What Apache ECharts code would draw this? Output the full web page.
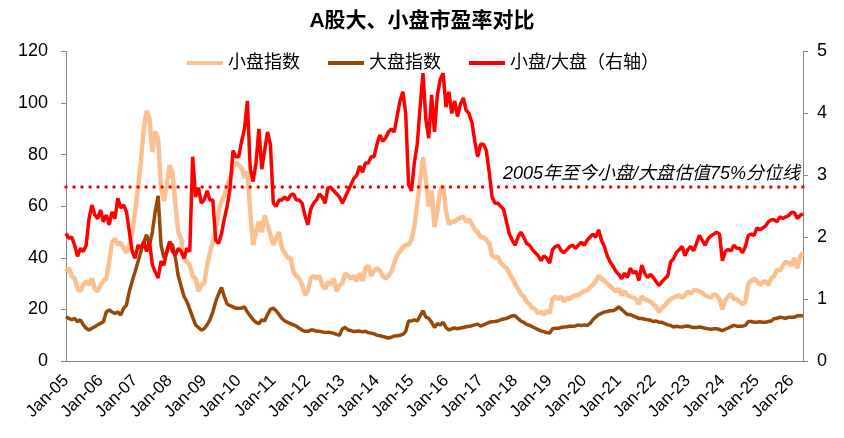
<!DOCTYPE html>
<html><head><meta charset="utf-8">
<script src="https://cdn.jsdelivr.net/npm/echarts@6/dist/echarts.min.js"></script>
<style>html,body{margin:0;padding:0;background:#fff}#c{width:844px;height:438px}</style>
</head><body><div id="c"></div>
<script>
// Monthly series, Jan 2005 .. May 2026
const startYear = 2005;
const smallCap = [
 34.6,36,33,32,28,27,29.5,31,29.5,32,28,27,
 29.5,31,32,38.5,46,47.5,45,46,43.7,42,45,50,
 58,67,77,90,97,94,81,89,86,67,62,68,
 76,73,60.5,50,47.5,40,38.5,37,33,32,27,29.5,
 30,37,42,46,51,58,62,64,68,71,75,77,
 76,75,71,73.5,58,45,50,54,50,56.5,52.7,49,
 45,47.5,50,43.7,42,40,40,34.6,33,32,29.5,25.6,
 27,32,33,32,33,29.5,28,30.7,29.5,32,27,29.5,
 30,34,33,32,33,31,34,31,36,37,33,35,
 36,35,33,32,33,34.6,38,41,42.5,44,45,45,
 47,52,61,70,79,70,60,66,52,58,66,68,
 58,53,54,54,55,55.5,56,54,55,53,51,50,
 48,48,47,45.5,41,40,40.5,38,37,36,34,32,
 30,28,26,25,23,22,20.5,20,18.5,19,18,19.5,
 18.5,24,25,24,25,23,24.5,24,25,25.5,25.5,26.5,
 27,27.5,28.5,29.5,31,33,32,31,30,29,28,27,
 28,25.5,27,25.5,25,24.5,24,22,25,24,23.5,23,
 22,21,19,20.5,21.5,23,24,24.5,25,25.5,24.5,25.5,
 27,26,27.5,27.5,27,26.5,25.5,25,24.5,26,25.5,24,
 20,23.5,25,26,24,24,23,22,23,30,31,32,
 31,29.5,30.5,31,29.5,32,33,35.5,35,37,38.5,38,
 37,40,36,40.5,42
];
const largeCap = [
 17.2,16.5,16,16.5,15.2,16,14,12.7,12,12.7,13.3,14,
 14.6,15.2,19,19.8,19,18.5,19,17.8,20.4,21.7,27,31,
 34.6,38.5,42.4,46,49,45,50,58,64,45,40,42,
 46,45,40,33,29,25,23,20,17,14,13,12,
 12.5,14,16,19,23,26,28.5,25,22,21.5,21,20.5,
 20.5,20.5,21,19,17.5,16,15,14.5,16,15.5,18,20,
 20.5,19.5,18,16.5,15.5,15,14.5,14,13.5,12.7,12,11.5,
 11.5,12,12,11.5,11.5,11.3,11,11.2,11,10.7,10.3,10,
 12.5,13,12,11.8,11.4,11.5,11.6,11.3,11.5,11,10.8,10.5,
 10,9.8,9.5,9.2,8.9,9.2,9.7,9.8,10,10.3,11.5,15.5,
 15.5,16,15.5,17.5,19.5,17,16.5,15,13,14.5,14,15,
 13,12,12.5,12.8,12.5,12.8,13,13.3,13.5,13.7,14,14.3,
 13.5,14,14.5,15,15.2,15.3,15.5,16,16.3,16.5,17,17.5,
 17.5,16.5,15.5,15,14.2,13.8,13.3,12.7,12.2,11.7,11.4,11,
 10.8,12.5,12.7,12.7,13,13.2,13.3,13.5,13.5,13.6,14,13.7,
 14,13.8,14.5,16,17,18,18.5,19,19.2,19.5,19.5,20,
 21,20,19,18,18,17.5,17,16.5,16.5,16.2,16,15.8,
 15.3,15.5,15,15,14.5,14,13.8,13.2,13.5,13.3,13.2,13.5,
 13.6,13.2,13,13,13.2,13,12.7,12.5,12.3,12.5,12.5,12.2,
 11.8,12.3,12.8,13.3,13.8,13.5,13.5,13.5,13.8,15.3,15.3,15,
 15,15.2,15,15,15.3,15.5,16.5,16.5,17,16.8,16.5,17,
 17,17,17.5,17.5,17.5
];
const ratio = [
 2.06,1.98,2.0,1.87,1.69,1.82,1.77,1.87,2.3,2.52,2.36,2.3,
 2.44,2.25,2.36,2.2,2.41,2.3,2.63,2.47,2.52,2.41,2.09,1.77,
 1.66,1.87,1.82,1.93,1.77,1.93,1.55,1.44,1.34,1.61,1.55,1.77,
 1.93,1.77,1.71,1.82,1.77,1.66,1.82,1.77,3.3,2.65,2.8,2.55,
 2.6,2.75,2.6,2.6,1.95,1.9,2.05,2.3,2.5,2.8,3.4,3.3,
 3.3,3.55,3.75,4.2,3.1,2.9,3.2,3.75,3.1,3.4,3.7,3.5,
 2.55,2.5,2.6,2.6,2.65,2.6,2.68,2.7,2.6,2.6,2.55,2.35,
 2.2,2.45,2.55,2.6,2.7,2.65,2.55,2.8,2.8,2.75,2.7,2.65,
 2.55,2.65,2.75,2.85,2.95,3.0,3.15,3.05,3.2,3.2,3.3,3.3,
 3.5,3.65,3.55,3.6,3.7,3.75,3.7,3.95,4.2,4.35,4.0,2.85,
 2.75,3.2,3.5,4.1,4.65,3.9,3.6,4.3,3.7,4.3,4.55,4.65,
 4.1,4.35,4.0,4.2,3.95,4.15,4.25,4.05,4.0,3.85,3.55,3.3,
 3.5,3.5,3.4,3.05,2.65,2.55,2.55,2.5,2.45,2.25,2.05,1.95,
 1.87,2.0,2.08,2.0,1.9,1.87,1.8,1.75,1.7,1.62,1.7,1.66,
 1.58,1.8,1.85,1.87,1.78,1.75,1.8,1.85,1.87,1.82,1.87,1.92,
 1.87,1.95,2.0,2.05,2.0,2.12,1.95,1.85,1.7,1.6,1.53,1.45,
 1.4,1.33,1.42,1.35,1.5,1.42,1.45,1.3,1.55,1.42,1.35,1.4,
 1.35,1.28,1.22,1.28,1.33,1.37,1.6,1.65,1.75,1.8,1.85,1.7,
 1.8,1.85,1.78,1.9,2.03,1.95,1.87,1.97,2.02,2.05,2.08,2.05,
 1.62,1.77,1.8,1.78,1.87,1.82,1.82,1.75,1.85,2.03,2.05,2.03,
 2.15,2.12,2.15,2.18,2.25,2.28,2.28,2.25,2.33,2.3,2.33,2.35,
 2.4,2.4,2.3,2.35,2.38
];
const pct75 = 2.82;
const seriesNames = ['小盘指数', '大盘指数', '小盘/大盘（右轴）'];
const pct75Label = '2005年至今小盘/大盘估值75%分位线';
const monthNames = ['Jan','Feb','Mar','Apr','May','Jun','Jul','Aug','Sep','Oct','Nov','Dec'];

const categories = smallCap.map((_, i) => {
  const y = startYear + Math.floor(i / 12);
  const m = i % 12;
  return y + '-' + String(m + 1).padStart(2, '0');
});

const FONT = "'Liberation Sans', Arial, 'Noto Sans CJK SC', sans-serif";
const chart = echarts.init(document.getElementById('c'), null, {renderer: 'canvas'});
chart.setOption({
  animation: false,
  backgroundColor: '#fff',
  textStyle: {fontFamily: FONT, color: '#000'},
  title: {
    text: 'A股大、小盘市盈率对比', left: 'center', top: 6,
    textStyle: {fontFamily: FONT, fontSize: 21, fontWeight: 'bold', color: '#000'}
  },
  legend: {
    top: 49, left: 182, icon: 'rect', itemWidth: 36, itemHeight: 4, itemGap: 28,
    data: seriesNames,
    textStyle: {fontFamily: FONT, fontSize: 18, color: '#000'}
  },
  grid: {left: 66, right: 41, top: 51.5, bottom: 77, containLabel: false},
  xAxis: {
    type: 'category', data: categories, boundaryGap: false,
    axisLine: {lineStyle: {color: '#868686', width: 1}},
    axisTick: {show: false},
    axisLabel: {
      rotate: 45, margin: 17, fontSize: 17, color: '#000', fontFamily: FONT,
      interval: (idx, val) => val.endsWith('-01'),
      formatter: (val) => {
        const p = val.split('-');
        return monthNames[parseInt(p[1], 10) - 1] + '-' + p[0].slice(2);
      }
    },
    splitLine: {show: false}
  },
  yAxis: [
    {type: 'value', min: 0, max: 120, interval: 20, position: 'left',
     axisLine: {show: true, lineStyle: {color: '#868686'}},
     axisTick: {show: true, length: 5, lineStyle: {color: '#868686'}},
     axisLabel: {fontSize: 18, color: '#000', margin: 18, fontFamily: FONT},
     splitLine: {show: false}},
    {type: 'value', min: 0, max: 5, interval: 1, position: 'right',
     axisLine: {show: true, lineStyle: {color: '#868686'}},
     axisTick: {show: true, length: 5, lineStyle: {color: '#868686'}},
     axisLabel: {fontSize: 18, color: '#000', margin: 14, fontFamily: FONT},
     splitLine: {show: false}}
  ],
  series: [
    {name: seriesNames[0], type: 'line', data: smallCap, yAxisIndex: 0,
     showSymbol: false, symbol: 'none', color: '#FAC090',
     lineStyle: {width: 4.5, color: '#FAC090'}},
    {name: seriesNames[1], type: 'line', data: largeCap, yAxisIndex: 0,
     showSymbol: false, symbol: 'none', color: '#984807',
     lineStyle: {width: 3.5, color: '#984807'}},
    {name: seriesNames[2], type: 'line', data: ratio, yAxisIndex: 1,
     showSymbol: false, symbol: 'none', color: '#FF0000',
     lineStyle: {width: 3.5, color: '#FF0000'},
     markLine: {
       silent: true, symbol: 'none',
       lineStyle: {color: '#FF0000', width: 3.5, type: [0.01, 8], cap: 'round'},
       label: {show: true, position: 'insideEndTop', formatter: pct75Label,
               fontStyle: 'italic', fontSize: 18, color: '#000', fontFamily: FONT, distance: 3},
       data: [{yAxis: pct75}]
     }}
  ]
});
</script></body></html>
